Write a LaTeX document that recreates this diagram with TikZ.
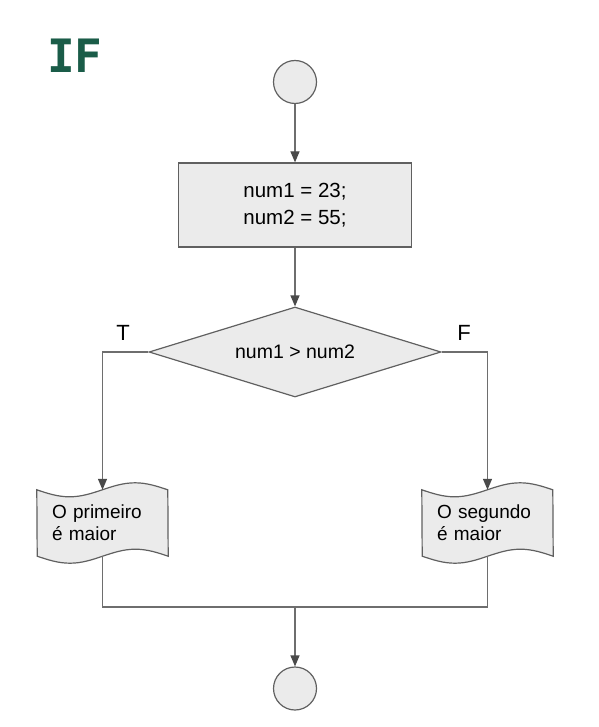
\documentclass[tikz,border=0pt]{standalone}
\usepackage{fontspec}
\setmainfont{Liberation Sans}
\newfontfamily\titlefont{DejaVu Sans Mono}
\usetikzlibrary{shapes.geometric,arrows.meta,backgrounds}
\definecolor{shapefill}{HTML}{EBEBEB}
\definecolor{shapeline}{HTML}{606060}
\definecolor{connc}{HTML}{6E6E6E}
\definecolor{tipc}{HTML}{4A4A4A}
\definecolor{titlegreen}{HTML}{1A5C48}
\begin{document}
\begin{tikzpicture}[x=1pt,y=-1pt,
  shp/.style={draw=shapeline,fill=shapefill,line width=1.2pt},
  termnode/.style={shp,circle,minimum size=43pt,inner sep=0pt},
  procbox/.style={shp,rectangle,minimum width=233pt,minimum height=84pt,align=center,font=\fontsize{20.5}{27}\selectfont},
  decbox/.style={shp,diamond,aspect=3.24,minimum width=292pt,minimum height=90pt,inner sep=0pt,font=\fontsize{19.5}{24}\selectfont},
  tapebox/.style={rectangle,minimum width=131pt,minimum height=66pt,text width=101pt,inner xsep=15pt,inner ysep=0pt,align=left,font=\fontsize{19}{22}\selectfont},
  connline/.style={draw=connc,line width=1.2pt},
  arr/.style={connline,-{Triangle[length=11pt,width=9pt,color=tipc]}},
  lbl/.style={font=\fontsize{22}{24}\selectfont,inner sep=0pt}
]
\useasboundingbox (0,0) rectangle (598,727);

\node[anchor=base west,inner sep=0pt,text=titlegreen,font=\titlefont\bfseries\fontsize{46}{50}\selectfont] (title) at (47,73) {IF};

\node[termnode] (start) at (295,82) {};
\node[procbox] (init) at (295,205) {num1 = 23;\\num2 = 55;};
\node[decbox] (dec) at (295,352) {num1 > num2};
\node[tapebox] (d1) at (102.5,523) {O primeiro\\é maior};
\node[tapebox] (d2) at (487.5,523) {O segundo\\é maior};
\node[termnode] (stop) at (295,688.5) {};
\coordinate (merge) at (295,607);

\node[lbl] (lT) at (123,333) {T};
\node[lbl] (lF) at (464,333) {F};

\begin{scope}[on background layer]
\foreach \d in {d1,d2}{
  \path[shp] (\d.north west) sin ++(32.75,7) cos ++(32.75,-7) sin ++(32.75,-7) cos ++(32.75,7)
    -- (\d.south east) sin ++(-32.75,-7) cos ++(-32.75,7) sin ++(-32.75,7) cos ++(-32.75,-7) -- cycle;
}
\end{scope}

\draw[arr] (start) -- (init);
\draw[arr] (init) -- (dec);
\draw[arr] (dec.west) -| (d1.north);
\draw[arr] (dec.east) -| (d2.north);
\draw[connline] (d1.south) |- (merge) -| (d2.south);
\draw[arr] (merge) -- (stop);
\end{tikzpicture}
\end{document}
